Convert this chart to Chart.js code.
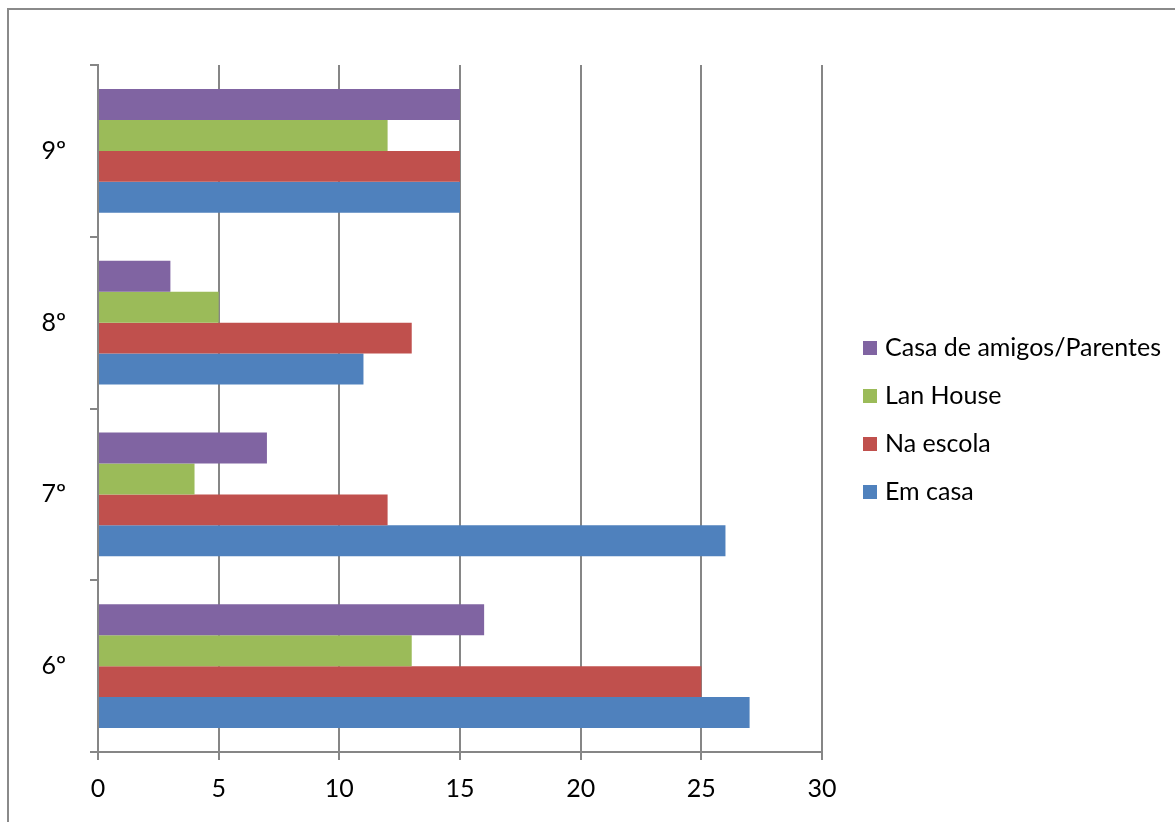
<!DOCTYPE html>
<html>
<head>
<meta charset="utf-8">
<script src="https://cdn.jsdelivr.net/npm/chart.js@4/dist/chart.umd.min.js"></script>
<style>
  html, body { margin: 0; padding: 0; background: #fff; overflow: hidden; }
  #wrap { position: relative; width: 1175px; height: 822px; }
  #frame { position: absolute; left: 7px; top: 8px; width: 1180px; height: 830px; border-left: 2px solid #8a8a8a; border-top: 2px solid #8a8a8a; }
  #legend { position: absolute; left: 863px; top: 330px; font-family: Lato, sans-serif; font-size: 25px; color: #000; }
  #legend div { height: 48px; line-height: 32px; white-space: nowrap; }
  #legend span { display: inline-block; width: 14px; height: 14px; margin-right: 8px; vertical-align: 1px; }
</style>
</head>
<body>
<div id="wrap">
  <div id="frame"></div>
  <canvas id="chart" width="1175" height="822"></canvas>
  <div id="legend"></div>
</div>
<script>
// ===== Onde acessa a internet, por série =====

const series = ['6º', '7º', '8º', '9º'];
const emCasa = [27, 26, 11, 15];
const naEscola = [25, 12, 13, 15];
const lanHouse = [13, 4, 5, 12];
const casaAmigos = [16, 7, 3, 15];
const xTicks = [0, 5, 10, 15, 20, 25, 30];

const COLORS = { blue: '#4f81bd', red: '#c0504d', green: '#9bbb59', purple: '#8064a2' };
const GRID = '#868686';
const FONT = { family: 'Lato, sans-serif', size: 25 };

// top-to-bottom order inside each group (also the legend order)
const datasets = [
  { label: 'Casa de amigos/Parentes', data: casaAmigos, backgroundColor: COLORS.purple },
  { label: 'Lan House', data: lanHouse, backgroundColor: COLORS.green },
  { label: 'Na escola', data: naEscola, backgroundColor: COLORS.red },
  { label: 'Em casa', data: emCasa, backgroundColor: COLORS.blue }
];

const chart = new Chart(document.getElementById('chart'), {
  type: 'bar',
  data: { labels: series, datasets: datasets },
  options: {
    indexAxis: 'y',
    responsive: false,
    animation: false,
    categoryPercentage: 0.72,
    barPercentage: 1.0,
    layout: { padding: { top: 65, right: 353, left: 0, bottom: 0 } },
    plugins: { legend: { display: false }, tooltip: { enabled: false } },
    scales: {
      x: {
        min: 0, max: 30,
        afterBuildTicks: s => { s.ticks = xTicks.map(v => ({ value: v })); },
        afterFit: s => { s.height = 70; },
        grid: { color: GRID, lineWidth: 2, tickLength: 8, drawTicks: true },
        border: { color: GRID, width: 2 },
        ticks: { color: '#000', font: FONT, padding: 14 }
      },
      y: {
        reverse: true,
        afterFit: s => { s.width = 98; },
        grid: { drawOnChartArea: false, color: GRID, lineWidth: 2, tickLength: 8, offset: true },
        border: { color: GRID, width: 2 },
        ticks: { color: '#000', font: FONT, padding: 24 }
      }
    }
  }
});

const legendEl = document.getElementById('legend');
chart.data.datasets.forEach(ds => {
  const row = document.createElement('div');
  const box = document.createElement('span');
  box.style.background = ds.backgroundColor;
  row.appendChild(box);
  row.appendChild(document.createTextNode(ds.label));
  legendEl.appendChild(row);
});
</script>
</body>
</html>
